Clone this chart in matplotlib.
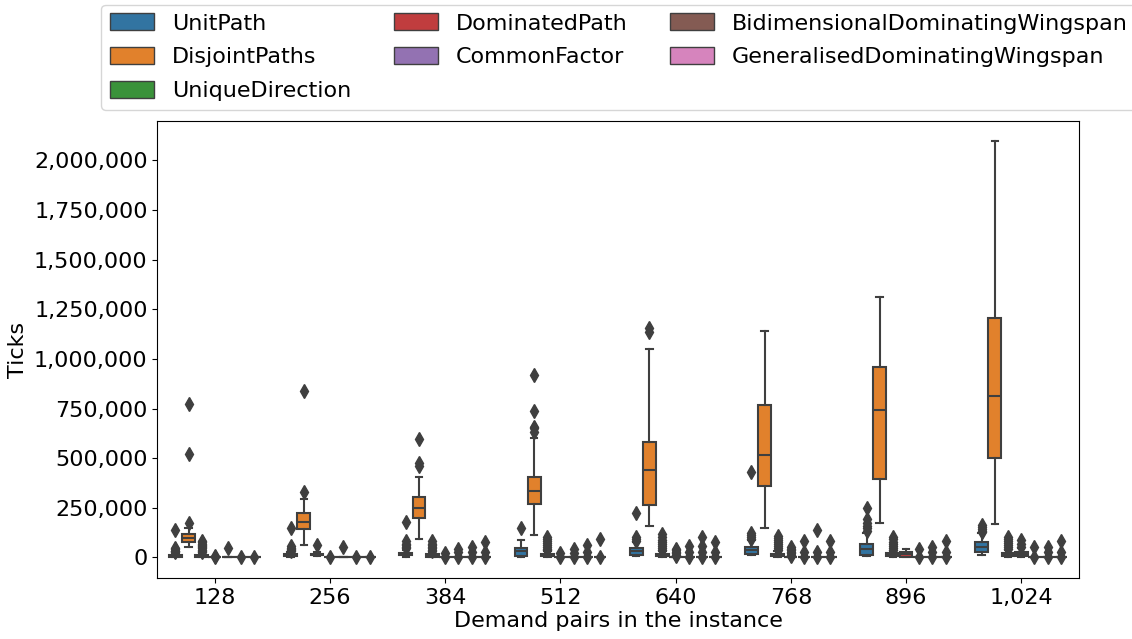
import matplotlib
matplotlib.use("Agg")
import matplotlib.pyplot as plt
from matplotlib.patches import Patch
from matplotlib.ticker import FuncFormatter
import numpy as np

# Categories and series
categories = ["128", "256", "384", "512", "640", "768", "896", "1,024"]
methods = ["UnitPath", "DisjointPaths", "UniqueDirection", "DominatedPath",
           "CommonFactor", "BidimensionalDominatingWingspan",
           "GeneralisedDominatingWingspan"]
colors = ["#3274a1", "#e1812c", "#3a923a", "#c03d3e", "#9372b2", "#845b53", "#d684bd"]

# Box statistics (one entry per category)
unit_q1 = [4000, 6000, 10000, 8000, 10000, 17000, 12000, 28000]
unit_med = [8000, 10000, 16000, 33000, 33000, 37000, 45000, 53000]
unit_q3 = [13000, 16000, 23000, 50000, 47000, 53000, 67000, 76000]
unit_lo = [1000, 2000, 4000, 3000, 5000, 10000, 5000, 12000]
unit_hi = [20000, 25000, 40000, 87000, 79000, 87000, 124000, 121000]
unit_fliers = [
    [25000, 30000, 35000, 42000, 48000, 138000],
    [30000, 36000, 42000, 50000, 58000, 149000],
    [48000, 55000, 62000, 70000, 82000, 179000],
    [149000],
    [85000, 92000, 101000, 225000],
    [95000, 105000, 112000, 124000, 431000],
    [135000, 150000, 160000, 174000, 196000, 247000],
    [128000, 135000, 143000, 152000, 163000],
]

disj_q1 = [79000, 144000, 200000, 269000, 264000, 361000, 396000, 502000]
disj_med = [96000, 181000, 247000, 336000, 440000, 516000, 742000, 813000]
disj_q3 = [116000, 222000, 305000, 406000, 583000, 768000, 958000, 1208000]
disj_lo = [55000, 65000, 94000, 112000, 158000, 149000, 174000, 168000]
disj_hi = [146000, 297000, 406000, 603000, 1050000, 1142000, 1313000, 2098000]
disj_fliers = [
    [174000, 520000, 771000],
    [328000, 838000],
    [460000, 474000, 596000],
    [633000, 650000, 658000, 739000, 919000],
    [1137000, 1154000],
    [],
    [],
    [],
]

uniq_q1 = [3000, 10000, 4000, 5000, 6000, 6000, 6000, 8000]
uniq_med = [7000, 14000, 9000, 11000, 12000, 12000, 13000, 15000]
uniq_q3 = [12000, 18000, 15000, 17000, 18000, 19000, 20000, 22000]
uniq_lo = [0, 6000, 0, 0, 0, 0, 0, 0]
uniq_hi = [22000, 25000, 28000, 30000, 32000, 33000, 35000, 38000]
uniq_fliers = [
    [28000, 34000, 40000, 46000, 52000, 58000, 64000, 70000, 76000, 82000],
    [65000],
    [34000, 40000, 46000, 54000, 62000, 70000, 82000],
    [36000, 45000, 55000, 65000, 75000, 85000, 95000, 104000],
    [38000, 48000, 58000, 68000, 78000, 90000, 104000, 118000],
    [38000, 48000, 58000, 68000, 78000, 88000, 98000, 107000],
    [40000, 50000, 60000, 70000, 80000, 92000, 104000],
    [42000, 52000, 62000, 72000, 82000, 92000, 101000],
]

dom_q1 = [0, 0, 0, 0, 0, 0, 3000, 8000]
dom_med = [0, 0, 0, 0, 0, 0, 15000, 15000]
dom_q3 = [0, 0, 0, 0, 0, 0, 28000, 28000]
dom_lo = [0, 0, 0, 0, 0, 0, 0, 0]
dom_hi = [0, 0, 0, 0, 0, 0, 42000, 48000]
dom_fliers = [
    [3000, 6000],
    [3000],
    [4000, 23000],
    [4000, 20000],
    [5000, 12000, 20000, 28000, 36000, 45000],
    [5000, 12000, 20000, 28000, 36000, 45000, 53000],
    [],
    [55000, 70000, 87000],
]

common_fliers = [
    [48000],
    [53000],
    [3000, 25000, 45000],
    [3000, 22000, 45000],
    [3000, 25000, 58000],
    [3000, 25000, 82000],
    [3000, 45000],
    [3000, 55000],
]
bidim_fliers = [
    [2000],
    [2000],
    [3000, 25000, 55000],
    [3000, 25000, 62000],
    [3000, 25000, 58000, 102000],
    [3000, 25000, 140000],
    [3000, 25000, 55000],
    [3000, 25000, 55000],
]
gen_fliers = [
    [2000],
    [2000],
    [3000, 25000, 80000],
    [3000, 92000],
    [3000, 25000, 79000],
    [3000, 25000, 82000],
    [3000, 25000, 82000],
    [3000, 25000, 85000],
]
zeros = [0] * len(categories)

series = [
    (unit_q1, unit_med, unit_q3, unit_lo, unit_hi, unit_fliers),
    (disj_q1, disj_med, disj_q3, disj_lo, disj_hi, disj_fliers),
    (uniq_q1, uniq_med, uniq_q3, uniq_lo, uniq_hi, uniq_fliers),
    (dom_q1, dom_med, dom_q3, dom_lo, dom_hi, dom_fliers),
    (zeros, zeros, zeros, zeros, zeros, common_fliers),
    (zeros, zeros, zeros, zeros, zeros, bidim_fliers),
    (zeros, zeros, zeros, zeros, zeros, gen_fliers),
]

gray = "#3f3f3f"
fig, ax = plt.subplots(figsize=(11.32, 6.39), dpi=100)
fig.subplots_adjust(left=0.139, right=0.953, bottom=0.095, top=0.811)

n = len(methods)
step = 0.8 / n
x = np.arange(len(categories))
for i, (q1, med, q3, lo, hi, fl) in enumerate(series):
    stats = [
        {"q1": q1[k], "med": med[k], "q3": q3[k], "whislo": lo[k],
         "whishi": hi[k], "fliers": fl[k]}
        for k in range(len(categories))
    ]
    pos = x - 0.4 + step * (i + 0.5)
    ax.bxp(stats, positions=pos, widths=step * 0.98, patch_artist=True,
           showfliers=True, manage_ticks=False,
           boxprops=dict(facecolor=colors[i], edgecolor=gray, linewidth=1.5),
           medianprops=dict(color=gray, linewidth=1.5),
           whiskerprops=dict(color=gray, linewidth=1.5),
           capprops=dict(color=gray, linewidth=1.5),
           flierprops=dict(marker="d", markerfacecolor=gray, markeredgecolor=gray,
                           markersize=7, linestyle="none"))

ax.set_xlim(-0.5, len(categories) - 0.5)
ax.set_ylim(-105000, 2200000)
ax.set_xticks(x)
ax.set_xticklabels(categories)
ax.set_yticks(np.arange(0, 2000001, 250000))
ax.yaxis.set_major_formatter(FuncFormatter(lambda v, p: f"{v:,.0f}"))
ax.tick_params(labelsize=16)
ax.set_xlabel("Demand pairs in the instance", fontsize=16, labelpad=2)
ax.set_ylabel("Ticks", fontsize=16)

handles = [Patch(facecolor=c, edgecolor=gray, label=m) for c, m in zip(colors, methods)]
ax.legend(handles=handles, loc="lower center", bbox_to_anchor=(0.501, 1.0),
          ncol=3, fontsize=16, columnspacing=1.9, labelspacing=0.6,
          handleheight=0.8)

fig.savefig("out.png", dpi=100)
